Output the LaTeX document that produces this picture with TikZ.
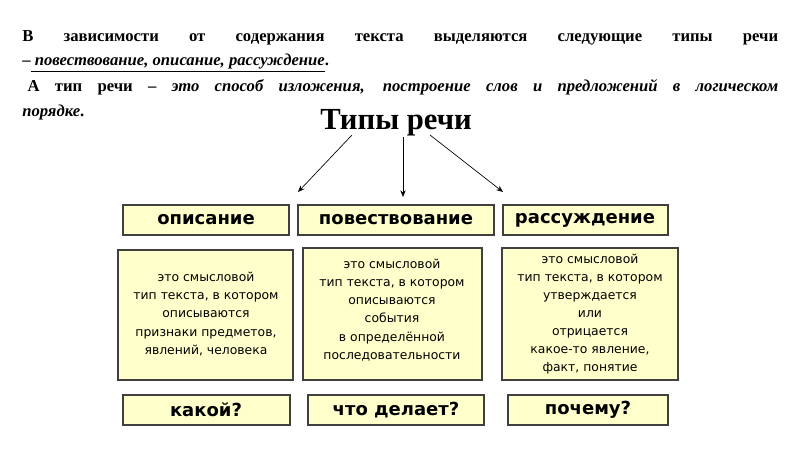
\documentclass[tikz,border=0pt]{standalone}
\usepackage{fontspec}
\setmainfont{Liberation Serif}
\newfontfamily\boxfont{DejaVu Sans}
\usetikzlibrary{arrows.meta}
\definecolor{boxfill}{HTML}{FFFFCC}
\definecolor{boxline}{HTML}{404040}
\tikzset{
 ybox/.style={draw=boxline,fill=boxfill,line width=0.8pt,inner sep=0pt},
 head/.style={font=\boxfont\bfseries\fontsize{13.5}{16}\selectfont},
 body/.style={font=\boxfont\fontsize{9.3}{13.6}\selectfont,align=center},
 arr/.style={-{Stealth[length=5pt,width=4pt]},line width=0.5pt}
}
\begin{document}
\begin{tikzpicture}[x=0.75pt,y=-0.75pt]
\useasboundingbox (0,0) rectangle (800,449);
\node[anchor=north west,inner sep=0pt,text width=567pt,align=justify,font=\bfseries\fontsize{12.5}{18.5}\selectfont] (intro) at (22,30)
{В зависимости от содержания текста выделяются следующие типы речи\linebreak
–\underline{ \itshape повествование, описание, рассуждение}.\par
\vspace{1pt}\hspace*{4pt}А тип речи – {\itshape это способ изложения, построение слов и предложений в логическом\linebreak порядке}.};
\node[font=\bfseries\fontsize{23}{26}\selectfont] (title) at (396,123) {Типы речи};
\coordinate (t1) at (352,135); \coordinate (t2) at (403,137); \coordinate (t3) at (430,135);
\draw[ybox] (123,205) rectangle (289,235); \node[head] (h1) at (206,220) {описание};
\draw[ybox] (298,205) rectangle (494,235); \node[head] (h2) at (396,220) {повествование};
\draw[ybox] (503,205) rectangle (668,235); \node[head] (h3) at (585,220) {рассуждение};
\coordinate (a1) at (298,192); \coordinate (a2) at (403,197); \coordinate (a3) at (503,192);
\draw[arr] (t1) -- (a1); \draw[arr] (t2) -- (a2); \draw[arr] (t3) -- (a3);
\draw[ybox] (118,250) rectangle (293,380);
\node[body] (b1) at (206,314) {это смысловой\\тип текста, в котором\\описываются\\признаки предметов,\\явлений, человека};
\draw[ybox] (303,248) rectangle (482,380);
\node[body] (b2) at (392,310) {это смысловой\\тип текста, в котором\\описываются\\события\\в определённой\\последовательности};
\draw[ybox] (502,248) rectangle (678,380);
\node[body] (b3) at (590,314) {это смысловой\\тип текста, в котором\\утверждается\\или\\отрицается\\какое-то явление,\\факт, понятие};
\draw[ybox] (123,395) rectangle (290,425); \node[head] (q1) at (206,410) {какой?};
\draw[ybox] (308,395) rectangle (484,425); \node[head] (q2) at (396,410) {что делает?};
\draw[ybox] (508,395) rectangle (668,425); \node[head] (q3) at (588,410) {почему?};
\end{tikzpicture}
\end{document}
